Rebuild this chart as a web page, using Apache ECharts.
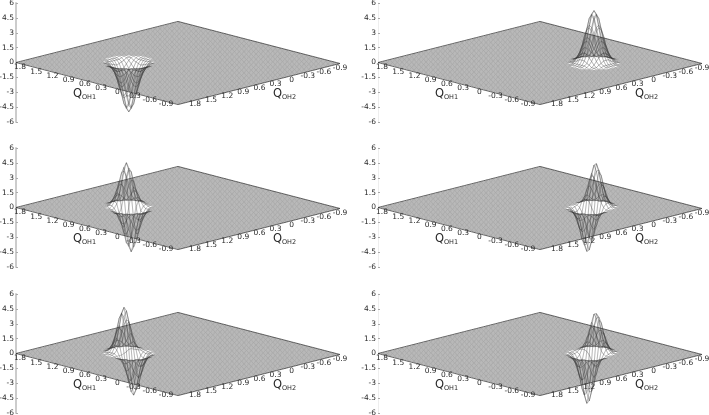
<!DOCTYPE html>
<html>
<head>
<meta charset="utf-8">
<style>
  html, body { margin: 0; padding: 0; background: #fff; }
  #chart { width: 709px; height: 415px; }
</style>
<script src="https://cdn.jsdelivr.net/npm/echarts@6/dist/echarts.min.js"></script>
</head>
<body>
<div id="chart"></div>
<script>
// mesh nodes, same for both coordinates
var qNodes = [1.8,1.76,1.72,1.68,1.64,1.6,1.56,1.52,1.48,1.44,1.4,1.36,1.32,1.28,1.24,1.2,1.16,1.12,1.08,1.04,1,0.96,0.92,0.88,0.84,0.8,0.76,0.72,0.68,0.64,0.6,0.56,0.52,0.48,0.44,0.4,0.36,0.32,0.28,0.24,0.2,0.16,0.12,0.08,0.04,0,-0.04,-0.08,-0.12,-0.16,-0.2,-0.24,-0.28,-0.32,-0.36,-0.4,-0.44,-0.48,-0.52,-0.56,-0.6,-0.64,-0.68,-0.72,-0.76,-0.8,-0.84,-0.88,-0.9];
var q1Ticks = [1.8,1.5,1.2,0.9,0.6,0.3,0,-0.3,-0.6,-0.9];
var q2Ticks = [1.8,1.5,1.2,0.9,0.6,0.3,0,-0.3,-0.6,-0.9];

// where the feature sits on the plate, one per panel
var centreQ1 = [0.88,0,0.88,0.04,0.88,0.04];
var centreQ2 = [0.84,0,0.84,0,0.84,0];

var surfaceA = [
[0,0,0,0,0,-0.1,-0.1,-0.1,-0.1,-0.1,0,0,0,0,0],
[0,0,0,0,-0.1,-0.2,-0.2,-0.2,-0.2,-0.2,-0.1,0,0,0,0],
[0,0,-0.1,-0.1,-0.3,-0.4,-0.5,-0.6,-0.5,-0.4,-0.3,-0.1,-0.1,0,0],
[0,0,-0.1,-0.3,-0.6,-0.9,-1.1,-1.2,-1.1,-0.9,-0.6,-0.3,-0.1,0,0],
[0,-0.1,-0.3,-0.6,-1,-1.6,-2.1,-2.3,-2.1,-1.6,-1,-0.6,-0.3,-0.1,0],
[-0.1,-0.2,-0.4,-0.9,-1.6,-2.5,-3.2,-3.5,-3.2,-2.5,-1.6,-0.9,-0.4,-0.2,-0.1],
[-0.1,-0.2,-0.5,-1.1,-2.1,-3.2,-4.2,-4.6,-4.2,-3.2,-2.1,-1.1,-0.5,-0.2,-0.1],
[-0.1,-0.2,-0.6,-1.2,-2.3,-3.5,-4.6,-5,-4.6,-3.5,-2.3,-1.2,-0.6,-0.2,-0.1],
[-0.1,-0.2,-0.5,-1.1,-2.1,-3.2,-4.2,-4.6,-4.2,-3.2,-2.1,-1.1,-0.5,-0.2,-0.1],
[-0.1,-0.2,-0.4,-0.9,-1.6,-2.5,-3.2,-3.5,-3.2,-2.5,-1.6,-0.9,-0.4,-0.2,-0.1],
[0,-0.1,-0.3,-0.6,-1,-1.6,-2.1,-2.3,-2.1,-1.6,-1,-0.6,-0.3,-0.1,0],
[0,0,-0.1,-0.3,-0.6,-0.9,-1.1,-1.2,-1.1,-0.9,-0.6,-0.3,-0.1,0,0],
[0,0,-0.1,-0.1,-0.3,-0.4,-0.5,-0.6,-0.5,-0.4,-0.3,-0.1,-0.1,0,0],
[0,0,0,0,-0.1,-0.2,-0.2,-0.2,-0.2,-0.2,-0.1,0,0,0,0],
[0,0,0,0,0,-0.1,-0.1,-0.1,-0.1,-0.1,0,0,0,0,0]
];
var surfaceB = [
[0,0,0,0,0,0.1,0.1,0.1,0.1,0.1,0,0,0,0,0],
[0,0,0,0,0.1,0.2,0.2,0.2,0.2,0.2,0.1,0,0,0,0],
[0,0,0.1,0.1,0.3,0.4,0.6,0.6,0.6,0.4,0.3,0.1,0.1,0,0],
[0,0,0.1,0.3,0.6,0.9,1.2,1.3,1.2,0.9,0.6,0.3,0.1,0,0],
[0,0.1,0.3,0.6,1.1,1.7,2.2,2.4,2.2,1.7,1.1,0.6,0.3,0.1,0],
[0.1,0.2,0.4,0.9,1.7,2.7,3.4,3.7,3.4,2.7,1.7,0.9,0.4,0.2,0.1],
[0.1,0.2,0.6,1.2,2.2,3.4,4.5,4.9,4.5,3.4,2.2,1.2,0.6,0.2,0.1],
[0.1,0.2,0.6,1.3,2.4,3.7,4.9,5.3,4.9,3.7,2.4,1.3,0.6,0.2,0.1],
[0.1,0.2,0.6,1.2,2.2,3.4,4.5,4.9,4.5,3.4,2.2,1.2,0.6,0.2,0.1],
[0.1,0.2,0.4,0.9,1.7,2.7,3.4,3.7,3.4,2.7,1.7,0.9,0.4,0.2,0.1],
[0,0.1,0.3,0.6,1.1,1.7,2.2,2.4,2.2,1.7,1.1,0.6,0.3,0.1,0],
[0,0,0.1,0.3,0.6,0.9,1.2,1.3,1.2,0.9,0.6,0.3,0.1,0,0],
[0,0,0.1,0.1,0.3,0.4,0.6,0.6,0.6,0.4,0.3,0.1,0.1,0,0],
[0,0,0,0,0.1,0.2,0.2,0.2,0.2,0.2,0.1,0,0,0,0],
[0,0,0,0,0,0.1,0.1,0.1,0.1,0.1,0,0,0,0,0]
];
var surfaceC = [
[0,0,0,0,0,0.1,0.1,0.1,0.1,0.1,0,0,0,0,0],
[0,0,0,0,0.1,0.2,0.3,0.3,0.3,0.2,0.1,0.1,0,0,0],
[0,0,0,0.1,0.2,0.5,0.7,0.9,0.9,0.7,0.4,0.2,0.1,0,0],
[0,0,0.1,0.2,0.5,1,1.6,2,2,1.6,1,0.5,0.2,0.1,0],
[0,0,0,0.2,0.6,1.4,2.5,3.3,3.4,2.8,1.8,0.9,0.4,0.1,0],
[0,0,-0.1,0,0.4,1.3,2.6,3.9,4.3,3.7,2.4,1.3,0.5,0.2,0.1],
[0,-0.1,-0.2,-0.4,-0.5,0,1.2,2.7,3.6,3.4,2.4,1.3,0.6,0.2,0.1],
[0,-0.2,-0.4,-1,-1.6,-1.9,-1.3,0,1.3,1.9,1.6,1,0.4,0.2,0],
[-0.1,-0.2,-0.6,-1.3,-2.4,-3.4,-3.6,-2.7,-1.2,0,0.5,0.4,0.2,0.1,0],
[-0.1,-0.2,-0.5,-1.3,-2.4,-3.7,-4.3,-3.9,-2.6,-1.3,-0.4,0,0.1,0,0],
[0,-0.1,-0.4,-0.9,-1.8,-2.8,-3.4,-3.3,-2.5,-1.4,-0.6,-0.2,0,0,0],
[0,-0.1,-0.2,-0.5,-1,-1.6,-2,-2,-1.6,-1,-0.5,-0.2,-0.1,0,0],
[0,0,-0.1,-0.2,-0.4,-0.7,-0.9,-0.9,-0.7,-0.5,-0.2,-0.1,0,0,0],
[0,0,0,-0.1,-0.1,-0.2,-0.3,-0.3,-0.3,-0.2,-0.1,0,0,0,0],
[0,0,0,0,0,-0.1,-0.1,-0.1,-0.1,-0.1,0,0,0,0,0]
];
var surfaceD = [
[0,0,0,0,0,0,0,0,0,0,0,0,0,0,0],
[0,0,0,0,0,0,0,0.1,0.1,0.1,0.1,0.1,0,0,0],
[0,0,0,-0.1,-0.2,-0.1,0,0.2,0.3,0.4,0.3,0.2,0.1,0,0],
[0,-0.1,-0.1,-0.3,-0.5,-0.5,-0.2,0.4,0.8,0.9,0.7,0.4,0.2,0.1,0],
[0,-0.1,-0.3,-0.7,-1.1,-1.2,-0.6,0.6,1.6,1.9,1.5,0.9,0.4,0.1,0],
[-0.1,-0.2,-0.6,-1.3,-2.1,-2.3,-1.3,0.7,2.5,3.2,2.6,1.5,0.7,0.2,0.1],
[-0.1,-0.3,-0.9,-1.9,-3.1,-3.5,-2.3,0.5,3.1,4.1,3.4,2,0.9,0.3,0.1],
[-0.1,-0.3,-1,-2.2,-3.6,-4.3,-3,0,3,4.3,3.6,2.2,1,0.3,0.1],
[-0.1,-0.3,-0.9,-2,-3.4,-4.1,-3.1,-0.5,2.3,3.5,3.1,1.9,0.9,0.3,0.1],
[-0.1,-0.2,-0.7,-1.5,-2.6,-3.2,-2.5,-0.7,1.3,2.3,2.1,1.3,0.6,0.2,0.1],
[0,-0.1,-0.4,-0.9,-1.5,-1.9,-1.6,-0.6,0.6,1.2,1.1,0.7,0.3,0.1,0],
[0,-0.1,-0.2,-0.4,-0.7,-0.9,-0.8,-0.4,0.2,0.5,0.5,0.3,0.1,0.1,0],
[0,0,-0.1,-0.2,-0.3,-0.4,-0.3,-0.2,0,0.1,0.2,0.1,0,0,0],
[0,0,0,-0.1,-0.1,-0.1,-0.1,-0.1,0,0,0,0,0,0,0],
[0,0,0,0,0,0,0,0,0,0,0,0,0,0,0]
];
var surfaceE = [
[0,0,0,0,0,0.1,0.1,0.1,0.1,0.1,0,0,0,0,0],
[0,0,0,0.1,0.1,0.2,0.3,0.4,0.3,0.2,0.1,0.1,0,0,0],
[0,0,0.1,0.2,0.4,0.6,0.9,1,0.9,0.7,0.4,0.2,0.1,0,0],
[0,0,0.1,0.4,0.8,1.4,2,2.3,2,1.5,0.8,0.4,0.1,0,0],
[0,0.1,0.2,0.6,1.3,2.4,3.4,3.8,3.4,2.5,1.4,0.6,0.2,0.1,0],
[0,0.1,0.2,0.7,1.6,2.8,4,4.5,4.1,2.9,1.7,0.8,0.3,0.1,0],
[0,0.1,0.2,0.5,1.1,2,2.9,3.3,3.1,2.2,1.3,0.6,0.2,0.1,0],
[0,0,0,0,0,0.1,0.2,0.4,0.4,0.3,0.2,0.1,0,0,0],
[0,-0.1,-0.2,-0.5,-1.1,-1.8,-2.5,-2.7,-2.4,-1.6,-0.9,-0.4,-0.1,0,0],
[0,-0.1,-0.2,-0.7,-1.5,-2.7,-3.7,-4.1,-3.6,-2.5,-1.4,-0.6,-0.2,-0.1,0],
[0,-0.1,-0.2,-0.6,-1.3,-2.3,-3.2,-3.5,-3.1,-2.2,-1.2,-0.6,-0.2,-0.1,0],
[0,0,-0.1,-0.4,-0.8,-1.4,-1.9,-2.2,-1.9,-1.4,-0.8,-0.3,-0.1,0,0],
[0,0,-0.1,-0.2,-0.3,-0.6,-0.9,-1,-0.9,-0.6,-0.3,-0.2,-0.1,0,0],
[0,0,0,-0.1,-0.1,-0.2,-0.3,-0.3,-0.3,-0.2,-0.1,-0.1,0,0,0],
[0,0,0,0,0,-0.1,-0.1,-0.1,-0.1,-0.1,0,0,0,0,0]
];
var surfaceF = [
[0,0,0,0,0,0,0,0,0,0,0,0,0,0,0],
[0,0,0,0,-0.1,-0.1,0,0,0.1,0.1,0.1,0.1,0,0,0],
[0,0,-0.1,-0.1,-0.2,-0.2,-0.1,0.1,0.3,0.3,0.3,0.2,0.1,0,0],
[0,-0.1,-0.2,-0.3,-0.6,-0.6,-0.3,0.2,0.7,0.8,0.7,0.4,0.2,0.1,0],
[0,-0.1,-0.4,-0.8,-1.3,-1.4,-0.9,0.2,1.3,1.7,1.4,0.9,0.4,0.1,0],
[-0.1,-0.2,-0.6,-1.4,-2.3,-2.7,-1.9,0.1,2.1,2.9,2.4,1.5,0.7,0.2,0.1],
[-0.1,-0.3,-0.9,-2.1,-3.4,-4.1,-3,-0.2,2.6,3.8,3.3,2,0.9,0.3,0.1],
[-0.1,-0.4,-1.1,-2.4,-4,-4.9,-3.8,-0.7,2.4,3.9,3.5,2.1,1,0.3,0.1],
[-0.1,-0.3,-1,-2.2,-3.7,-4.6,-3.7,-1.1,1.8,3.3,3,1.9,0.9,0.3,0.1],
[-0.1,-0.2,-0.7,-1.6,-2.8,-3.5,-2.9,-1.1,1,2.1,2,1.3,0.6,0.2,0.1],
[0,-0.1,-0.4,-0.9,-1.6,-2.1,-1.8,-0.8,0.4,1.1,1.1,0.7,0.3,0.1,0],
[0,-0.1,-0.2,-0.4,-0.8,-1,-0.9,-0.4,0.1,0.5,0.5,0.3,0.1,0.1,0],
[0,0,-0.1,-0.2,-0.3,-0.4,-0.3,-0.2,0,0.1,0.2,0.1,0,0,0],
[0,0,0,-0.1,-0.1,-0.1,-0.1,-0.1,0,0,0,0,0,0,0],
[0,0,0,0,0,0,0,0,0,0,0,0,0,0,0]
];
var surfaces = [surfaceA, surfaceB, surfaceC, surfaceD, surfaceE, surfaceF];

var gridLeft = [16, 378];
var gridTop = [3, 148, 294];
var font = "DejaVu Sans";
var span = 2.7;

// the plate tilt, expressed in z units so the y axis stays the real z axis
function project(q1, q2, z) {
  var u = (1.8 - q1) / span;
  var v = (1.8 - q2) / span;
  return [u + v, z - (4.24 * u - 4.14 * v)];
}

function heightAt(p, n1, n2) {
  var i = n1 - qNodes.indexOf(centreQ1[p]) + 7;
  var j = n2 - qNodes.indexOf(centreQ2[p]) + 7;
  if (i < 0 || j < 0 || i > 14 || j > 14) return 0;
  return surfaces[p][i][j];
}

function renderMesh(p) {
  return function (params, api) {
    var dir = api.value(0);
    var k = api.value(1);
    var pts = [], raised = [];
    for (var n = 0; n < qNodes.length; n++) {
      var n1 = dir === 0 ? k : n;
      var n2 = dir === 0 ? n : k;
      var h = heightAt(p, n1, n2);
      var pt = api.coord(project(qNodes[n1], qNodes[n2], h));
      pts.push(pt);
      if (h !== 0) raised.push(pt);
    }
    var edge = k === 0 || k === qNodes.length - 1;
    var children = [{
      type: "polyline",
      shape: { points: pts },
      style: { fill: "none", stroke: "#2a2a2a", lineWidth: edge ? 0.7 : 0.25 },
      silent: true
    }];
    // the lifted part of a wire reads a bit darker than the plate in the picture
    if (raised.length > 1) {
      children.push({
        type: "polyline",
        shape: { points: raised },
        style: { fill: "none", stroke: "#555", lineWidth: 0.15 },
        silent: true
      });
    }
    return { type: "group", silent: true, children: children };
  };
}

function tickText(x, y, text) {
  return {
    type: "text",
    x: x,
    y: y,
    style: { text: text, fontFamily: font, fontSize: 7.5, fill: "#2a2a2a", align: "center", verticalAlign: "middle" },
    silent: true
  };
}

function renderLabels(params, api) {
  var axis = api.value(0);
  var q = api.value(1);
  var pos, t;
  if (axis === 0) {
    t = (1.8 - q) / span;
    pos = api.coord(project(q, 1.8, 0));
    return tickText(pos[0] + 4 - 16 * t, pos[1] + 5 - 5 * t, String(q));
  }
  t = (1.8 - q) / span;
  pos = api.coord(project(-0.9, q, 0));
  return tickText(pos[0] + 17 - 17 * t, pos[1] + 5 * t, String(q));
}

function renderTitles(params, api) {
  var pos = api.coord(project(1.8, 1.8, 0));
  var dx = api.value(0) === 0 ? 57 : 257;
  var name = api.value(0) === 0 ? "OH1" : "OH2";
  return {
    type: "group",
    silent: true,
    children: [
      { type: "text", x: pos[0] + dx, y: pos[1] + 26, silent: true,
        style: { text: "Q", fontFamily: font, fontSize: 11.5, fill: "#2a2a2a", align: "left", verticalAlign: "top" } },
      { type: "text", x: pos[0] + dx + 9, y: pos[1] + 31, silent: true,
        style: { text: name, fontFamily: font, fontSize: 6.5, fill: "#2a2a2a", align: "left", verticalAlign: "top" } }
    ]
  };
}

var meshLines = [];
for (var d = 0; d < 2; d++) {
  for (var k = 0; k < qNodes.length; k++) meshLines.push([d, k]);
}
var labelRows = [];
q1Ticks.forEach(function (q) { labelRows.push([0, q]); });
q2Ticks.forEach(function (q) { labelRows.push([1, q]); });

var grids = [], xAxes = [], yAxes = [], series = [];
for (var p = 0; p < 6; p++) {
  var col = p % 2;
  var row = Math.floor(p / 2);
  grids.push({ left: gridLeft[col], top: gridTop[row], width: 324, height: 119, outerBoundsMode: "none" });
  xAxes.push({ type: "value", gridIndex: p, min: 0, max: 2, show: false });
  yAxes.push({
    type: "value",
    gridIndex: p,
    min: -6,
    max: 6,
    interval: 1.5,
    splitLine: { show: false },
    axisLine: { show: true, lineStyle: { color: col === 0 ? "#ccc" : "#eee", width: col === 0 ? 2 : 1 } },
    axisTick: { show: true, inside: true, length: 2, lineStyle: { color: "#aaa", width: 1 } },
    axisLabel: { fontFamily: font, fontSize: 7.5, color: "#2a2a2a", margin: 2,
      formatter: function (v) { return String(v); } }
  });
  series.push({
    type: "custom", xAxisIndex: p, yAxisIndex: p, z: 2, animation: false, silent: true, clip: false,
    data: labelRows, renderItem: renderLabels
  });
  series.push({
    type: "custom", xAxisIndex: p, yAxisIndex: p, z: 2, animation: false, silent: true, clip: false,
    data: [[0], [1]], renderItem: renderTitles
  });
  series.push({
    type: "custom", xAxisIndex: p, yAxisIndex: p, z: 3, animation: false, silent: true, clip: false,
    data: meshLines, renderItem: renderMesh(p)
  });
}

var myChart = echarts.init(document.getElementById("chart"), null, { renderer: "canvas" });
myChart.setOption({
  animation: false,
  backgroundColor: "#fff",
  grid: grids,
  xAxis: xAxes,
  yAxis: yAxes,
  series: series
});
</script>
</body>
</html>
